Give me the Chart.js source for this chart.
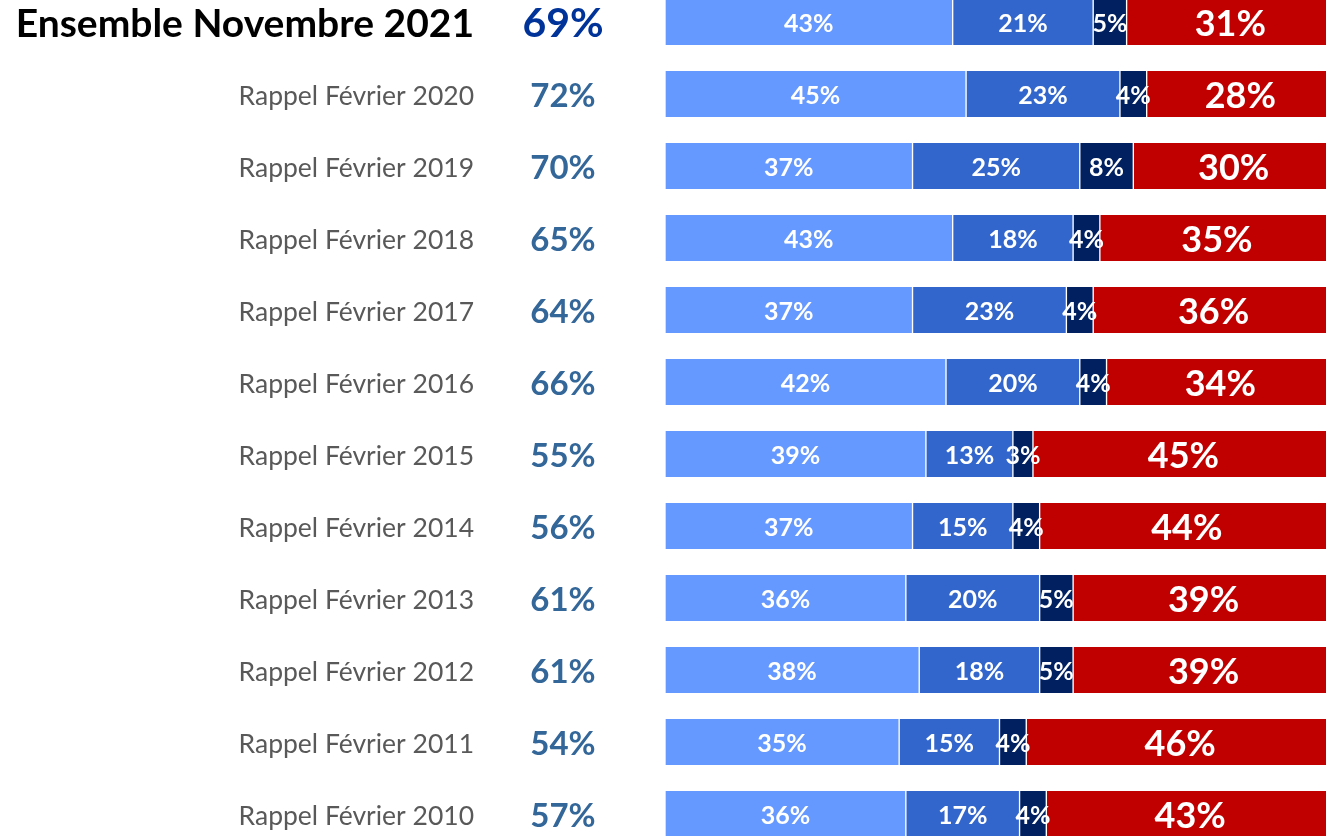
<!DOCTYPE html>
<html>
<head>
<meta charset="utf-8">
<script src="https://cdn.jsdelivr.net/npm/chart.js@4"></script>
<style>
  html, body { margin: 0; padding: 0; background: #fff; overflow: hidden; }
  #wrap { position: absolute; left: 0; top: -14px; width: 1334px; height: 864px; }
</style>
</head>
<body>
<div id="wrap"><canvas id="graphique"></canvas></div>
<script>
var libelles = ["Ensemble Novembre 2021", "Rappel Février 2020", "Rappel Février 2019", "Rappel Février 2018",
  "Rappel Février 2017", "Rappel Février 2016", "Rappel Février 2015", "Rappel Février 2014",
  "Rappel Février 2013", "Rappel Février 2012", "Rappel Février 2011", "Rappel Février 2010"];
var totaux = [69, 72, 70, 65, 64, 66, 55, 56, 61, 61, 54, 57];
var serie1 = [43, 45, 37, 43, 37, 42, 39, 37, 36, 38, 35, 36];
var serie2 = [21, 23, 25, 18, 23, 20, 13, 15, 20, 18, 15, 17];
var serie3 = [5, 4, 8, 4, 4, 4, 3, 4, 5, 5, 4, 4];
var serie4 = [31, 28, 30, 35, 36, 34, 45, 44, 39, 39, 46, 43];

var police = "Lato, 'Open Sans', sans-serif";

// etiquettes blanches dans les barres
var etiquettesBarres = {
  id: 'etiquettesBarres',
  afterDatasetsDraw: function(chart) {
    var ctx = chart.ctx;
    ctx.save();
    ctx.textAlign = 'center';
    ctx.textBaseline = 'middle';
    ctx.fillStyle = '#ffffff';
    chart.data.datasets.forEach(function(ds, i) {
      var meta = chart.getDatasetMeta(i);
      ctx.font = (i == 3 ? "bold 36px " : "bold 25px ") + police;
      meta.data.forEach(function(bar, j) {
        var cx = (bar.x + bar.base) / 2;
        ctx.fillText(ds.data[j] + "%", cx, bar.y + 2);
      });
    });
    ctx.restore();
  }
};

// libelles et totaux a gauche
var colonneGauche = {
  id: 'colonneGauche',
  afterDraw: function(chart) {
    var ctx = chart.ctx;
    var y = chart.scales.y;
    ctx.save();
    ctx.textBaseline = 'middle';
    libelles.forEach(function(lib, i) {
      var py = y.getPixelForValue(i);
      ctx.textAlign = 'right';
      if (i == 0) {
        ctx.font = "bold 39px " + police;
        ctx.fillStyle = '#000000';
      } else {
        ctx.font = "26.5px " + police;
        ctx.fillStyle = '#595959';
      }
      ctx.fillText(lib, 474, py + 2);
      ctx.textAlign = 'center';
      if (i == 0) {
        ctx.font = "bold 41px " + police;
        ctx.fillStyle = '#003399';
      } else {
        ctx.font = "bold 33px " + police;
        ctx.fillStyle = '#336699';
      }
      ctx.fillText(totaux[i] + "%", 563, py + 2);
    });
    ctx.restore();
  }
};

var bordure = { left: 1, right: 1, top: 0, bottom: 0 };

new Chart(document.getElementById("graphique"), {
  type: 'bar',
  data: {
    labels: libelles,
    datasets: [
      { label: "s1", data: serie1, backgroundColor: "#6699FF", borderColor: "#ffffff", borderWidth: bordure, borderSkipped: false },
      { label: "s2", data: serie2, backgroundColor: "#3366CC", borderColor: "#ffffff", borderWidth: bordure, borderSkipped: false },
      { label: "s3", data: serie3, backgroundColor: "#002060", borderColor: "#ffffff", borderWidth: bordure, borderSkipped: false },
      { label: "s4", data: serie4, backgroundColor: "#C00000", borderColor: "#ffffff", borderWidth: bordure, borderSkipped: false }
    ]
  },
  options: {
    indexAxis: 'y',
    responsive: true,
    maintainAspectRatio: false,
    animation: false,
    layout: { padding: { left: 665, right: 0, top: 0, bottom: 0 } },
    barThickness: 46,
    scales: {
      x: { stacked: true, min: 0, max: 100, display: false },
      y: { stacked: true, display: false }
    },
    plugins: {
      legend: { display: false },
      tooltip: { enabled: false }
    }
  },
  plugins: [etiquettesBarres, colonneGauche]
});
</script>
</body>
</html>
